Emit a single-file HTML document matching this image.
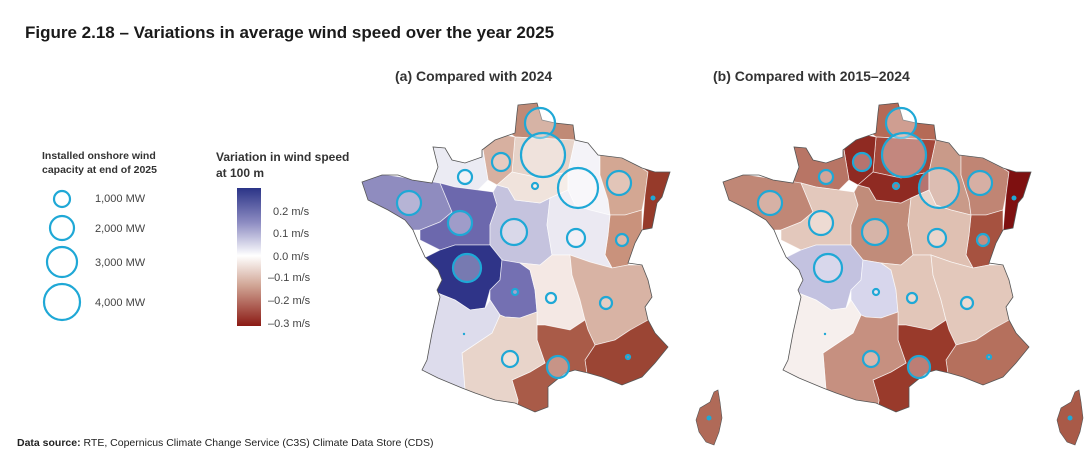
<!DOCTYPE html>
<html><head><meta charset="utf-8"><style>
body{margin:0;background:#fff;width:1090px;height:467px;overflow:hidden;font-family:"Liberation Sans",sans-serif;}
</style></head><body>
<svg width="1090" height="467" viewBox="0 0 1090 467" xmlns="http://www.w3.org/2000/svg" font-family="Liberation Sans, sans-serif">
<defs>
<clipPath id="fr"><path id="outline" d="M518,105 L537,103 L542,120 L555,123 L573,125 L575,140 L588,143 L598,155 L622,158 L642,168 L655,172 L670,172 L662,197 L657,203 L652,228 L642,230 L635,243 L628,263 L642,265 L648,280 L652,297 L645,307 L648,320 L655,333 L668,347 L655,363 L642,377 L622,385 L602,377 L588,373 L575,370 L565,373 L548,387 L548,407 L535,412 L515,403 L495,400 L475,393 L462,388 L438,378 L422,370 L427,360 L432,333 L440,297 L437,290 L442,280 L438,270 L425,257 L418,242 L413,230 L405,220 L388,210 L368,200 L362,182 L382,175 L398,175 L412,180 L432,183 L438,167 L433,147 L445,148 L452,160 L465,163 L482,157 L482,150 L495,140 L515,133 L517,113 Z"/></clipPath>
<linearGradient id="cb" x1="0" y1="0" x2="0" y2="1">
<stop offset="0" stop-color="#2b3487"/><stop offset="0.25" stop-color="#8d8cc2"/><stop offset="0.49" stop-color="#ffffff"/><stop offset="0.7" stop-color="#d2a898"/><stop offset="1" stop-color="#8b1a14"/></linearGradient>
</defs>

<text x="25" y="38" font-size="17" font-weight="bold" fill="#1a1a1a">Figure 2.18 – Variations in average wind speed over the year 2025</text>
<text x="395" y="81" font-size="14" font-weight="bold" fill="#333">(a) Compared with 2024</text>
<text x="713" y="81" font-size="14" font-weight="bold" fill="#333">(b) Compared with 2015–2024</text>

<text x="42" y="159" font-size="10.5" font-weight="bold" fill="#333">Installed onshore wind</text>
<text x="42" y="173" font-size="10.5" font-weight="bold" fill="#333">capacity at end of 2025</text>
<g fill="none" stroke="#1fa8d6" stroke-width="2.2">
<circle cx="62" cy="199" r="8"/><circle cx="62" cy="228" r="12"/><circle cx="62" cy="262" r="15"/><circle cx="62" cy="302" r="18"/></g>
<g font-size="11" fill="#444"><text x="95" y="202">1,000 MW</text><text x="95" y="232">2,000 MW</text><text x="95" y="266">3,000 MW</text><text x="95" y="306">4,000 MW</text></g>

<text x="216" y="161" font-size="12" font-weight="bold" fill="#333">Variation in wind speed</text>
<text x="216" y="177" font-size="12" font-weight="bold" fill="#333">at 100 m</text>
<rect x="237" y="188" width="24" height="138" fill="url(#cb)"/>
<g font-size="11" fill="#444"><text x="273" y="215">0.2 m/s</text><text x="273" y="237">0.1 m/s</text><text x="273" y="260">0.0 m/s</text><text x="268" y="281">–0.1 m/s</text><text x="268" y="304">–0.2 m/s</text><text x="268" y="327">–0.3 m/s</text></g>

<text x="17" y="446" font-size="10.5" fill="#222"><tspan font-weight="bold">Data source:</tspan> RTE, Copernicus Climate Change Service (C3S) Climate Data Store (CDS)</text>

<!-- MAP A -->
<g>
<g clip-path="url(#fr)" stroke="#fff" stroke-width="0.8" stroke-opacity="0.7">
<polygon fill="#c08a76" points="505,95 545,95 600,120 588,145 575,140 515,137 505,130"/>
<polygon fill="#e6d3c9" points="515,137 575,140 568,172 540,178 512,172"/>
<polygon fill="#d7b0a0" points="480,130 515,137 512,172 497,185 488,180 483,150"/>
<polygon fill="#ebebf3" points="425,140 483,150 488,180 478,190 455,187 440,183 425,185"/>
<polygon fill="#8f8cbf" points="355,170 440,183 445,195 452,212 440,222 420,230 355,230"/>
<polygon fill="#6c68ad" points="440,183 455,187 478,190 493,192 497,205 490,225 490,245 475,245 455,245 440,250 420,240 420,230 440,222 452,212 445,195"/>
<polygon fill="#c5c3de" points="493,192 497,185 508,188 515,200 540,203 550,198 547,225 552,255 540,265 520,263 502,260 490,245 490,225 497,205"/>
<polygon fill="#f0e3dc" points="512,172 540,178 568,172 568,190 550,198 540,203 515,200 508,188 497,185"/>
<polygon fill="#f4f3f8" points="575,140 588,143 600,155 600,175 608,200 610,215 590,210 575,205 568,190 568,172"/>
<polygon fill="#d3a793" points="588,143 598,155 622,158 642,168 648,172 645,195 642,210 625,215 610,215 608,200 600,175 600,155"/>
<polygon fill="#963a2a" points="642,168 680,165 670,235 642,232 645,195 648,172"/>
<polygon fill="#c9927c" points="610,215 625,215 642,210 642,232 640,245 628,265 612,268 605,255 608,235"/>
<polygon fill="#ebe9f2" points="568,190 575,205 590,210 610,215 608,235 605,255 612,268 590,262 570,255 552,255 547,225 550,198"/>
<polygon fill="#2f3488" points="455,245 475,245 490,245 502,260 500,280 490,290 485,308 470,310 455,300 430,290 420,260 440,250"/>
<polygon fill="#7470b2" points="502,260 520,263 530,270 535,290 537,312 520,318 505,317 500,315 490,300 490,290 500,280"/>
<polygon fill="#f4e8e4" points="520,263 540,265 552,255 570,255 572,275 580,300 585,320 570,330 545,325 537,325 537,312 535,290 530,270"/>
<polygon fill="#d8b3a4" points="570,255 590,262 612,268 628,265 642,265 660,280 652,300 648,320 655,333 630,330 615,340 595,345 588,330 585,320 580,300 572,275"/>
<polygon fill="#9b4534" points="595,345 615,340 630,330 648,320 675,345 670,395 590,395 585,360"/>
<polygon fill="#a95b48" points="545,325 570,330 585,320 588,330 595,345 585,360 590,395 560,395 550,420 515,420 518,400 512,380 530,372 545,363 537,340 537,325"/>
<polygon fill="#e8d4ca" points="500,315 505,317 520,318 537,312 537,325 537,340 545,363 530,372 512,380 518,400 515,420 460,420 465,390 462,353 492,333"/>
<polygon fill="#dddcec" points="485,308 490,300 500,315 492,333 462,353 465,390 460,420 405,420 410,290 430,290 455,300 470,310"/>
</g>
<use href="#outline" fill="none" stroke="#555" stroke-width="0.8"/>
<g stroke="#1fa8d6" stroke-width="2.2" fill="#fff" fill-opacity="0.35">
<circle cx="540" cy="123" r="15"/><circle cx="543" cy="155" r="22"/><circle cx="501" cy="162" r="9"/><circle cx="465" cy="177" r="7"/><circle cx="409" cy="203" r="12"/><circle cx="460" cy="223" r="12"/><circle cx="514" cy="232" r="13"/><circle cx="535" cy="186" r="3"/><circle cx="578" cy="188" r="20"/><circle cx="619" cy="183" r="12"/><circle cx="622" cy="240" r="6"/><circle cx="576" cy="238" r="9"/><circle cx="467" cy="268" r="14"/><circle cx="515" cy="292" r="3"/><circle cx="551" cy="298" r="5"/><circle cx="606" cy="303" r="6"/><circle cx="510" cy="359" r="8"/><circle cx="558" cy="367" r="11"/><circle cx="628" cy="357" r="2"/></g>
<circle cx="653" cy="198" r="2.5" fill="#1fa8d6"/><circle cx="464" cy="334" r="1.2" fill="#1fa8d6"/>
</g>

<!-- MAP B -->
<g transform="translate(361,0)">
<g clip-path="url(#fr)" stroke="#fff" stroke-width="0.8" stroke-opacity="0.7">
<polygon fill="#b56a56" points="505,95 545,95 600,120 588,145 575,140 515,137 505,130"/>
<polygon fill="#a4473a" points="515,137 575,140 568,172 540,178 512,172"/>
<polygon fill="#8f2a22" points="480,130 515,137 512,172 497,185 488,180 483,150"/>
<polygon fill="#b87565" points="425,140 483,150 488,180 478,190 455,187 440,183 425,185"/>
<polygon fill="#c08776" points="355,170 440,183 445,195 452,212 440,222 420,230 355,230"/>
<polygon fill="#e3c8bc" points="440,183 455,187 478,190 493,192 497,205 490,225 490,245 475,245 455,245 440,250 420,240 420,230 440,222 452,212 445,195"/>
<polygon fill="#c18c7a" points="493,192 497,185 508,188 515,200 540,203 550,198 547,225 552,255 540,265 520,263 502,260 490,245 490,225 497,205"/>
<polygon fill="#8f2a22" points="512,172 540,178 568,172 568,190 550,198 540,203 515,200 508,188 497,185"/>
<polygon fill="#c99a89" points="575,140 588,143 600,155 600,175 608,200 610,215 590,210 575,205 568,190 568,172"/>
<polygon fill="#c08574" points="588,143 598,155 622,158 642,168 648,172 645,195 642,210 625,215 610,215 608,200 600,175 600,155"/>
<polygon fill="#7e1010" points="642,168 680,165 670,235 642,232 645,195 648,172"/>
<polygon fill="#a65240" points="610,215 625,215 642,210 642,232 640,245 628,265 612,268 605,255 608,235"/>
<polygon fill="#dfc0b2" points="568,190 575,205 590,210 610,215 608,235 605,255 612,268 590,262 570,255 552,255 547,225 550,198"/>
<polygon fill="#c3c2e0" points="455,245 475,245 490,245 502,260 500,280 490,290 485,308 470,310 455,300 430,290 420,260 440,250"/>
<polygon fill="#d7d6ec" points="502,260 520,263 530,270 535,290 537,312 520,318 505,317 500,315 490,300 490,290 500,280"/>
<polygon fill="#e2c6b9" points="520,263 540,265 552,255 570,255 572,275 580,300 585,320 570,330 545,325 537,325 537,312 535,290 530,270"/>
<polygon fill="#e3c8bb" points="570,255 590,262 612,268 628,265 642,265 660,280 652,300 648,320 655,333 630,330 615,340 595,345 588,330 585,320 580,300 572,275"/>
<polygon fill="#b5705d" points="595,345 615,340 630,330 648,320 675,345 670,395 590,395 585,360"/>
<polygon fill="#993a2b" points="545,325 570,330 585,320 588,330 595,345 585,360 590,395 560,395 550,420 515,420 518,400 512,380 530,372 545,363 537,340 537,325"/>
<polygon fill="#c69080" points="500,315 505,317 520,318 537,312 537,325 537,340 545,363 530,372 512,380 518,400 515,420 460,420 465,390 462,353 492,333"/>
<polygon fill="#f6efed" points="485,308 490,300 500,315 492,333 462,353 465,390 460,420 405,420 410,290 430,290 455,300 470,310"/>
</g>
<use href="#outline" fill="none" stroke="#555" stroke-width="0.8"/>
<g stroke="#1fa8d6" stroke-width="2.2" fill="#fff" fill-opacity="0.35">
<circle cx="540" cy="123" r="15"/><circle cx="543" cy="155" r="22"/><circle cx="501" cy="162" r="9"/><circle cx="465" cy="177" r="7"/><circle cx="409" cy="203" r="12"/><circle cx="460" cy="223" r="12"/><circle cx="514" cy="232" r="13"/><circle cx="535" cy="186" r="3"/><circle cx="578" cy="188" r="20"/><circle cx="619" cy="183" r="12"/><circle cx="622" cy="240" r="6"/><circle cx="576" cy="238" r="9"/><circle cx="467" cy="268" r="14"/><circle cx="515" cy="292" r="3"/><circle cx="551" cy="298" r="5"/><circle cx="606" cy="303" r="6"/><circle cx="510" cy="359" r="8"/><circle cx="558" cy="367" r="11"/><circle cx="628" cy="357" r="2"/></g>
<circle cx="653" cy="198" r="2.5" fill="#1fa8d6"/><circle cx="464" cy="334" r="1.2" fill="#1fa8d6"/>
</g>

<!-- Corsica -->
<path d="M718,390 L720,402 L722,418 L719,432 L714,445 L706,442 L699,432 L696,420 L700,408 L710,402 L714,392 Z" fill="#b06a58" stroke="#555" stroke-width="0.6"/>
<circle cx="709" cy="418" r="2.5" fill="#1fa8d6"/>
<path d="M1079,390 L1081,402 L1083,418 L1080,432 L1075,445 L1067,442 L1060,432 L1057,420 L1061,408 L1071,402 L1075,392 Z" fill="#a95a48" stroke="#555" stroke-width="0.6"/>
<circle cx="1070" cy="418" r="2.5" fill="#1fa8d6"/>
</svg>
</body></html>
